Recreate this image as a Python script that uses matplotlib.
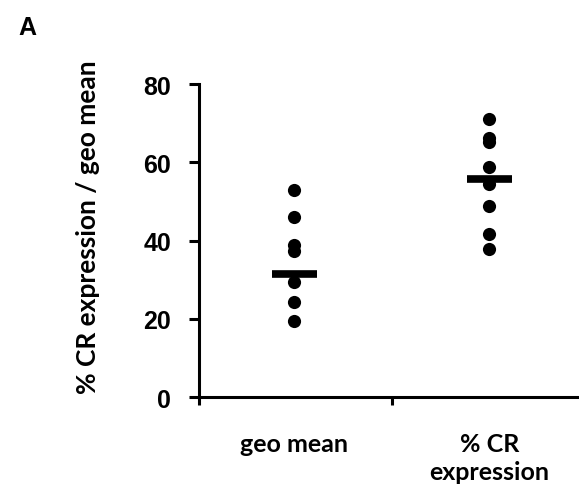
import matplotlib
matplotlib.use('Agg')
import matplotlib.pyplot as plt

# data
categories = ['geo mean', '% CR\nexpression']
geo_mean_vals = [52.9, 46.0, 38.8, 37.3, 29.4, 24.3, 19.4]
cr_expr_vals = [71.1, 66.2, 65.2, 58.8, 54.4, 48.8, 41.7, 37.8]
center_vals = [31.4, 55.7]
y_ticks = [0, 20, 40, 60, 80]

fig = plt.figure(figsize=(5.79, 4.89), dpi=100)
ax = fig.add_axes([0.3437, 0.186, 0.656, 0.640])

for i, vals in enumerate([geo_mean_vals, cr_expr_vals]):
    ax.scatter([i + 1] * len(vals), vals, s=90, color='black', zorder=3, linewidths=0)
    ax.plot([i + 1 - 0.115, i + 1 + 0.115], [center_vals[i]] * 2,
            color='black', lw=5.5, solid_capstyle='butt', zorder=4)

ax.set_xlim(0.51, 2.46)
ax.set_ylim(0, 80)

for s in ['top', 'right']:
    ax.spines[s].set_visible(False)
for s in ['left', 'bottom']:
    ax.spines[s].set_linewidth(2.2)

ax.set_yticks(y_ticks)
ax.set_yticklabels([str(t) for t in y_ticks], fontsize=18, fontweight='bold',
                   family='Liberation Sans')
ax.tick_params(axis='y', direction='out', length=7, width=2.2, pad=13)

ax.set_xticks([0.51, 1.5])
ax.set_xticklabels(['', ''])
ax.tick_params(axis='x', which='major', direction='out', length=6, width=2.2)
ax.set_xticks([1, 2], minor=True)
ax.set_xticklabels(categories, minor=True, fontsize=18, fontweight='bold',
                   family='Lato', linespacing=1.3, va='top')
ax.tick_params(axis='x', which='minor', length=0, pad=25)

ax.set_ylabel('% CR expression / geo mean', fontsize=19, fontweight='bold', family='Lato')
ax.yaxis.set_label_coords(-0.261, 0.545)

fig.text(27 / 579, 1 - 28 / 489, 'A', fontsize=18, fontweight='bold',
         family='Liberation Sans', ha='center', va='center')

fig.savefig('out.png', dpi=100)
